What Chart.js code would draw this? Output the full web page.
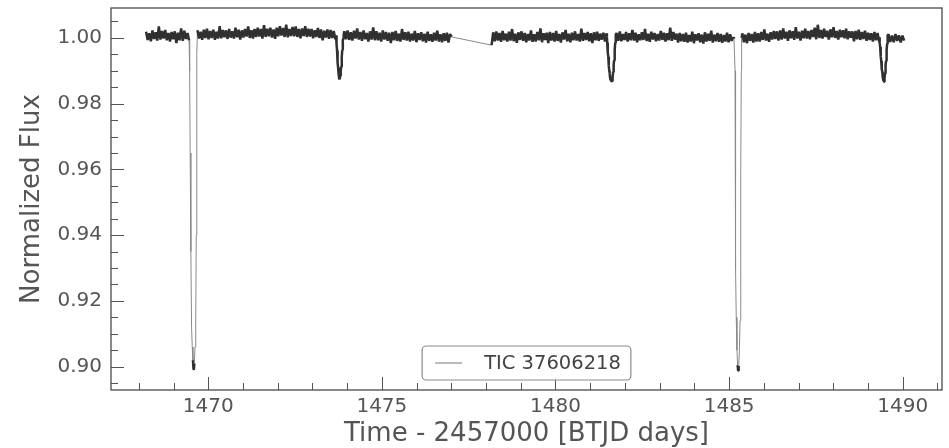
<!DOCTYPE html>
<html><head><meta charset="utf-8">
<script src="https://cdn.jsdelivr.net/npm/chart.js@4.4.1/dist/chart.umd.min.js"></script>
<style>html,body{margin:0;padding:0;background:#fff;} canvas{display:block;}</style>
</head><body>
<canvas id="c" width="949" height="448"></canvas>
<script>
// ---------------- DATA ----------------
const seriesLabel = 'TIC 37606218';
const xTitle = 'Time - 2457000 [BTJD days]';
const yTitle = 'Normalized Flux';
const xTickValues = [1470, 1475, 1480, 1485, 1490];
const yTickValues = [0.90, 0.92, 0.94, 0.96, 0.98, 1.00];
const xLimits = [1467.2, 1491.13];
const yLimits = [0.8929, 1.0091];

// out-of-eclipse stretches (regular cadence between start and end time)
const quietSpans = [[1468.21,1469.45],[1469.69,1473.66],[1473.92,1477.01],[1478.16,1481.47],[1481.76,1485.12],[1485.38,1489.32],[1489.59,1490.04]];
const seg1Flux = [1.0019,0.9994,1.0014,0.9990,1.0023,0.9997,1.0017,0.9992,1.0035,0.9995,1.0021,0.9998,1.0024,0.9993,1.0015,0.9989,1.0018,0.9996,1.0020,0.9984,1.0016,0.9993,1.0029,0.9991,1.0022,0.9997,1.0015,0.9992];
const seg2aFlux = [1.0023,0.9998,1.0019,0.9994,1.0025,1.0000,1.0028,0.9996,
1.0021,1.0000,1.0025,0.9994,1.0019,0.9998,1.0036,0.9999,
1.0024,1.0002,1.0023,0.9997,1.0027,1.0001,1.0020,0.9998,
1.0031,1.0002,1.0025,0.9995,1.0023,1.0001,1.0027,1.0004,
1.0035,1.0000,1.0023,0.9998,1.0027,1.0003,1.0031,1.0004,
1.0027,0.9998,1.0039,1.0003,1.0028,1.0005,1.0031,1.0001,
1.0026,0.9997,1.0031,1.0005,1.0036,1.0007,1.0030,1.0003,
1.0040,1.0002,1.0027,1.0006,1.0033,1.0005,1.0035,1.0003,
1.0027,0.9999,1.0029,1.0006,1.0036,1.0003,1.0028,1.0004,
1.0027,0.9999,1.0023,1.0003,1.0030,1.0000,1.0026,0.9993,
1.0022,1.0001,1.0026,0.9997,1.0024,1.0000,1.0021,0.9996];
const seg2bFlux = [1.0020,0.9996,1.0023,0.9994,1.0017,0.9992,1.0022,0.9998,1.0029,0.9995,
1.0018,0.9991,1.0023,0.9996,1.0015,0.9989,1.0020,0.9995,1.0032,0.9993,
1.0020,0.9993,1.0016,0.9989,1.0023,0.9995,1.0018,0.9991,1.0016,0.9984,
1.0018,0.9993,1.0021,0.9991,1.0013,0.9989,1.0027,0.9994,1.0017,0.9992,
1.0019,0.9989,1.0013,0.9992,1.0021,0.9987,1.0014,0.9994,1.0017,0.9990,
1.0013,0.9986,1.0019,0.9991,1.0011,0.9988,1.0016,0.9992,1.0022,0.9989,
1.0011,0.9987,1.0014,0.9991,1.0016,0.9986,1.0012,1.0003];
const seg3aFlux = [0.9978,1.0017,0.9990,1.0020,0.9992,1.0015,0.9988,1.0021,0.9993,1.0013,
0.9989,1.0019,0.9992,1.0027,0.9990,1.0013,0.9985,1.0017,0.9994,1.0020,
0.9991,1.0015,0.9987,1.0012,0.9992,1.0023,0.9988,1.0011,0.9989,1.0018,
0.9993,1.0029,0.9987,1.0014,0.9994,1.0016,0.9984,1.0018,0.9992,1.0015,
0.9989,1.0021,0.9991,1.0012,0.9986,1.0017,0.9995,1.0024,0.9990,1.0013,
0.9987,1.0016,0.9993,1.0020,0.9992,1.0012,0.9989,1.0028,0.9991,1.0015,
0.9994,1.0018,0.9990,1.0014,0.9984,1.0017,0.9993,1.0019,0.9991,1.0013,
0.9995,1.0016,0.9989,1.0014];
const seg3bFlux = [1.0015,0.9991,1.0020,0.9990,1.0012,0.9994,1.0018,0.9989,1.0014,0.9993,
1.0024,0.9992,1.0016,0.9987,1.0011,0.9993,1.0017,0.9994,1.0027,0.9991,
1.0013,0.9988,1.0019,0.9995,1.0015,0.9990,1.0012,0.9992,1.0021,0.9994,
1.0016,0.9989,1.0014,0.9993,1.0031,0.9991,1.0018,0.9995,1.0013,0.9986,
1.0015,0.9990,1.0012,0.9988,1.0016,0.9986,1.0009,0.9989,1.0019,0.9984,
1.0011,0.9992,1.0014,0.9987,1.0010,0.9983,1.0017,0.9989,1.0013,0.9991,
1.0022,0.9986,1.0010,0.9990,1.0015,0.9988,1.0012,0.9985,1.0009,0.9989,
1.0016,0.9987,1.0011,0.9991,1.0002];
const seg4aFlux = [1.0014,0.9987,1.0010,0.9984,1.0015,0.9991,1.0012,0.9986,1.0018,0.9989,
1.0014,0.9989,1.0018,0.9994,1.0026,0.9992,1.0013,0.9988,1.0017,0.9995,
1.0021,0.9997,1.0020,0.9992,1.0023,0.9995,1.0029,0.9998,1.0019,0.9991,
1.0023,0.9999,1.0020,0.9994,1.0033,0.9998,1.0019,0.9992,1.0022,0.9999,
1.0028,0.9998,1.0021,0.9996,1.0024,1.0003,1.0031,0.9996,1.0040,1.0000,
1.0024,0.9998,1.0028,1.0003,1.0022,0.9995,1.0026,1.0002,1.0033,1.0000,
1.0021,0.9995,1.0025,1.0002,1.0023,0.9999,1.0028,0.9996,1.0020,1.0001,
1.0020,0.9990,1.0021,0.9996,1.0025,0.9994,1.0018,0.9997,1.0022,0.9991,
1.0016,0.9994,1.0014,0.9989,1.0018,0.9993,1.0015,0.9990];
const seg4bFlux = [1.0011,0.9988,1.0007,0.9987,1.0012,0.9991,1.0008,0.9986,1.0007,0.9992];
const quietFlux = [seg1Flux, seg2aFlux, seg2bFlux, seg3aFlux, seg3bFlux, seg4aFlux, seg4bFlux];

// eclipses
const ecl1Time = [1469.465,1469.48,1469.50,1469.52,1469.54,1469.56,1469.575,1469.585,1469.60,1469.62,1469.64,1469.655,1469.665,1469.675];
const ecl1Flux = [0.9900,0.9650,0.9350,0.9120,0.9060,0.9020,0.8995,0.8990,0.9010,0.9060,0.9130,0.9400,0.9700,0.9950];
const ecl2Time = [1473.68,1473.69,1473.70,1473.71,1473.72,1473.73,1473.74,1473.75,1473.76,1473.77,1473.78,1473.79,1473.80,1473.81,1473.82,1473.83,1473.84,1473.85,1473.86,1473.87,1473.88,1473.89,1473.90];
const ecl2Flux = [1.0008,0.9996,0.9980,0.9962,0.9948,0.9925,0.9910,0.9893,0.9889,0.9877,0.9880,0.9874,0.9884,0.9887,0.9900,0.9912,0.9930,0.9942,0.9963,0.9975,0.9993,0.9998,1.0010];
const ecl3Time = [1481.48,1481.49,1481.50,1481.51,1481.52,1481.53,1481.54,1481.55,1481.56,1481.57,1481.58,1481.59,1481.60,1481.61,1481.62,1481.63,1481.64,1481.65,1481.66,1481.67,1481.68,1481.69,1481.70,1481.71,1481.72,1481.73,1481.74];
const ecl3Flux = [1.0004,0.9985,0.9972,0.9955,0.9943,0.9925,0.9915,0.9899,0.9893,0.9880,0.9878,0.9871,0.9874,0.9866,0.9871,0.9869,0.9878,0.9882,0.9896,0.9903,0.9920,0.9932,0.9952,0.9965,0.9985,0.9996,1.0010];
const ecl4Time = [1485.14,1485.17,1485.18,1485.19,1485.205,1485.225,1485.245,1485.26,1485.275,1485.295,1485.315,1485.33,1485.34,1485.35,1485.36];
const ecl4Flux = [0.9998,0.9900,0.9600,0.9300,0.9150,0.9050,0.9005,0.8988,0.9002,0.9045,0.9140,0.9300,0.9600,0.9900,1.0000];
const ecl5Time = [1489.33,1489.34,1489.35,1489.36,1489.37,1489.38,1489.39,1489.40,1489.41,1489.42,1489.43,1489.44,1489.45,1489.46,1489.47,1489.48,1489.49,1489.50,1489.51,1489.52,1489.53,1489.54,1489.55,1489.56,1489.57];
const ecl5Flux = [1.0002,0.9985,0.9972,0.9958,0.9944,0.9930,0.9918,0.9905,0.9897,0.9884,0.9880,0.9870,0.9873,0.9867,0.9874,0.9878,0.9892,0.9900,0.9918,0.9930,0.9950,0.9963,0.9982,0.9992,1.0008];
const eclipseTimes = [ecl1Time, ecl2Time, ecl3Time, ecl4Time, ecl5Time];
const eclipseFluxes = [ecl1Flux, ecl2Flux, ecl3Flux, ecl4Flux, ecl5Flux];

// ---------------- BUILD ----------------
function buildPoints() {
  const pts = [];
  quietFlux.forEach((arr, k) => {
    const t0 = quietSpans[k][0], t1 = quietSpans[k][1], n = arr.length;
    arr.forEach((f, i) => pts.push({x: t0 + (t1 - t0) * i / (n - 1), y: f}));
  });
  eclipseTimes.forEach((ts, k) => ts.forEach((t, i) => pts.push({x: t, y: eclipseFluxes[k][i]})));
  pts.sort((a, b) => a.x - b.x);
  return pts;
}

const FONT = 'DejaVu Sans';
const TXT = '#555';
const LINE = '#303030';

// long single strokes (deep ingress/egress, data gap) look thin and light in the reference
function isLongStroke(c) {
  const y0 = c.p0.parsed.y, y1 = c.p1.parsed.y;
  const dy = Math.abs(y1 - y0);
  const dx = Math.abs(c.p1.parsed.x - c.p0.parsed.x);
  const deep = Math.min(y0, y1) < 0.95;
  return dy > 0.006 || dx > 0.5 || (deep && dy > 0.0035);
}

const framePlugin = {
  id: 'frameTicks',
  afterDatasetsDraw(chart) {
    const ctx = chart.ctx;
    const {left, right, top, bottom} = chart.chartArea;
    const xs = chart.scales.x, ys = chart.scales.y;
    ctx.save();
    ctx.strokeStyle = '#555';
    ctx.lineWidth = 1;
    for (let v = Math.ceil(xs.min); v <= xs.max; v += 1) {
      const px = Math.round(xs.getPixelForValue(v)) + 0.5;
      const len = xTickValues.includes(v) ? 13 : 7;
      ctx.beginPath(); ctx.moveTo(px, bottom); ctx.lineTo(px, bottom - len); ctx.stroke();
    }
    for (let k = Math.ceil(ys.min / 0.005); k * 0.005 <= ys.max + 1e-9; k++) {
      const py = Math.round(ys.getPixelForValue(k * 0.005)) + 0.5;
      const len = (k % 4 === 0) ? 13 : 7;
      ctx.beginPath(); ctx.moveTo(left, py); ctx.lineTo(left + len, py); ctx.stroke();
    }
    ctx.strokeStyle = '#4a4a4a';
    ctx.lineWidth = 1.3;
    ctx.strokeRect(left, top, right - left, bottom - top);

    // legend (lower center)
    const ds = chart.data.datasets[0];
    const fs = 19.5;
    ctx.font = fs + 'px "' + FONT + '"';
    const tw = ctx.measureText(ds.label).width;
    const padL = 13, lineLen = 27, gap = 22, padR = 10, h = 34;
    const w = padL + lineLen + gap + tw + padR;
    const cx = (left + right) / 2;
    const bx = cx - w / 2, by = bottom - 10 - h;
    ctx.beginPath();
    ctx.roundRect(bx, by, w, h, 4);
    ctx.fillStyle = 'rgba(255,255,255,0.85)';
    ctx.fill();
    ctx.strokeStyle = '#8c8c8c';
    ctx.lineWidth = 1.2;
    ctx.stroke();
    const cy = by + h / 2;
    ctx.strokeStyle = '#777';
    ctx.lineWidth = 1;
    ctx.beginPath(); ctx.moveTo(bx + padL, cy); ctx.lineTo(bx + padL + lineLen, cy); ctx.stroke();
    ctx.fillStyle = '#444';
    ctx.textBaseline = 'middle';
    ctx.textAlign = 'left';
    ctx.fillText(ds.label, bx + padL + lineLen + gap, cy + 1);
    ctx.restore();
  }
};

new Chart(document.getElementById('c'), {
  type: 'line',
  data: {
    datasets: [{
      label: seriesLabel,
      data: buildPoints(),
      borderColor: LINE,
      borderWidth: 2.5,
      borderJoinStyle: 'bevel',
      pointRadius: 0,
      tension: 0,
      fill: false,
      segment: {
        borderColor: c => isLongStroke(c) ? '#8a8a8a' : undefined,
        borderWidth: c => isLongStroke(c) ? 1 : undefined
      }
    }]
  },
  options: {
    responsive: false,
    animation: false,
    devicePixelRatio: 1,
    parsing: false,
    normalized: true,
    events: [],
    layout: {padding: {top: 8, right: 7, left: 0, bottom: 0}},
    plugins: {legend: {display: false}, tooltip: {enabled: false}},
    scales: {
      x: {
        type: 'linear',
        min: xLimits[0], max: xLimits[1],
        grid: {display: false, drawTicks: false},
        border: {display: false},
        afterBuildTicks: s => { s.ticks = xTickValues.map(v => ({value: v})); },
        afterFit: s => { s.height = 58; s.paddingLeft = 0; s.paddingRight = 0; },
        ticks: {
          autoSkip: false, maxRotation: 0, padding: 5,
          color: TXT, font: {family: FONT, size: 20},
          callback: v => String(v)
        },
        title: {display: true, text: xTitle, color: TXT, font: {family: FONT, size: 26, lineHeight: 1.05}, padding: {top: 0, bottom: 0}}
      },
      y: {
        type: 'linear',
        min: yLimits[0], max: yLimits[1],
        grid: {display: false, drawTicks: false},
        border: {display: false},
        afterBuildTicks: s => { s.ticks = yTickValues.map(v => ({value: v})); },
        afterFit: s => { s.width = 111; s.paddingTop = 0; s.paddingBottom = 0; },
        ticks: {
          padding: 9,
          color: TXT, font: {family: FONT, size: 20},
          callback: v => Number(v).toFixed(2)
        },
        title: {display: true, text: yTitle, color: TXT, font: {family: FONT, size: 26, lineHeight: 1.2}, padding: {top: 17, bottom: 0}}
      }
    }
  },
  plugins: [framePlugin]
});
</script>
</body></html>
